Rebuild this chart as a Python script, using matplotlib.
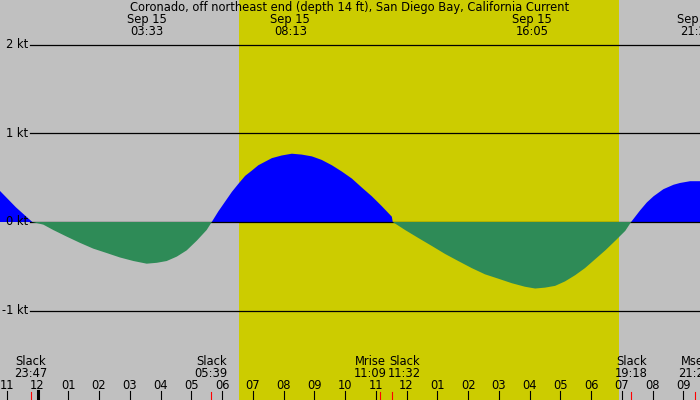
import numpy as np
import matplotlib
matplotlib.use("Agg")
import matplotlib.pyplot as plt

# hours after midnight Sep 15, current speed in knots (flood +, ebb -)
hours = [-1.22, -0.70, -0.17,
         0.19, 0.51, 0.95, 1.38, 1.81, 2.25, 2.68, 3.12, 3.55, 3.88, 4.20, 4.53, 4.85,
         5.18, 5.50, 5.665,
         5.88, 6.10, 6.32, 6.53, 6.75, 6.97, 7.18, 7.40, 7.62, 7.94, 8.27, 8.59, 8.92,
         9.24, 9.57, 9.89, 10.22, 10.54, 10.87, 11.19, 11.52, 11.55,
         11.95, 12.38, 12.82, 13.25, 13.68, 14.12, 14.55, 14.99, 15.42, 15.85, 16.18,
         16.50, 16.83, 17.15, 17.48, 17.80, 18.13, 18.46, 18.79, 19.11, 19.30,
         19.59, 19.81, 20.03, 20.35, 20.68, 20.89, 21.22, 21.45, 21.54]
speed = [0.35, 0.165, 0.0,
         -0.03, -0.09, -0.165, -0.235, -0.30, -0.35, -0.40, -0.44, -0.47, -0.46, -0.44,
         -0.39, -0.32, -0.21, -0.09, 0.0,
         0.12, 0.23, 0.34, 0.43, 0.52, 0.58, 0.64, 0.68, 0.72, 0.75, 0.77, 0.76, 0.74,
         0.70, 0.64, 0.57, 0.49, 0.39, 0.29, 0.18, 0.06, 0.0,
         -0.09, -0.18, -0.27, -0.36, -0.44, -0.52, -0.59, -0.64, -0.69, -0.73, -0.75,
         -0.74, -0.72, -0.67, -0.60, -0.52, -0.42, -0.32, -0.21, -0.10, 0.0,
         0.13, 0.22, 0.29, 0.37, 0.42, 0.44, 0.46, 0.46, 0.46]

peak_times = [3.55, 8.22, 16.08, 21.45]
peak_labels = ["03:33", "08:13", "16:05", "21:27"]

event_times = [-0.22, 5.65, 11.15, 11.53, 19.30, 21.38]
event_names = ["Slack", "Slack", "Mrise", "Slack", "Slack", "Mset"]
event_labels = ["23:47", "05:39", "11:09", "11:32", "19:18", "21:23"]

sunrise, sunset = 6.55, 18.92
grid_kt = [2, 1, 0, -1]
hour_ticks = list(range(-1, 22))

title = "Coronado, off northeast end (depth 14 ft), San Diego Bay, California Current"

x0, x1 = -1.22, 21.54
pxh = 30.75  # pixels per hour
fs = 8.3

h = np.array(hours)
v = np.array(speed)

plt.rcParams['font.family'] = ['DejaVu Sans']
fig = plt.figure(figsize=(7, 4), dpi=100)
fig.patch.set_facecolor("#c0c0c0")
ax = fig.add_axes([0, 0, 1, 1])
ax.set_facecolor("#c0c0c0")
ax.set_xlim(x0, x1)
ax.set_ylim(-2.007, 2.503)
ax.axis("off")

ax.axvspan(sunrise, sunset, color="#cccc00", lw=0, zorder=0)

for g in grid_kt:
    ax.plot([x0 + 30 / pxh, x1], [g, g], color="black", lw=0.9, zorder=2)
    ax.text(x0 + 28 / pxh, g, "%d kt" % g, ha="right", va="center", fontsize=fs)

# flood sits under the zero line, ebb covers it
ax.fill_between(h, 0, v, where=v >= 0, interpolate=True, color="#0000ff", lw=0, zorder=1)
ax.fill_between(h, 0, v, where=v <= 0, interpolate=True, color="#2e8b57", lw=0, zorder=3)

tr = ax.get_xaxis_transform()
ax.text((x0 + x1) / 2, 0.98, title, transform=tr, ha="center", va="center", fontsize=fs)
for t, lab in zip(peak_times, peak_labels):
    ax.text(t, 0.95, "Sep 15", transform=tr, ha="center", va="center", fontsize=fs)
    ax.text(t, 0.921, lab, transform=tr, ha="center", va="center", fontsize=fs)

# nudge the two crowded labels around 11h apart
shift = {2: -10 / pxh, 3: 12 / pxh}
for i, (t, name, lab) in enumerate(zip(event_times, event_names, event_labels)):
    xt = t + shift.get(i, 0)
    ax.text(xt, 0.0958, name, transform=tr, ha="center", va="center", fontsize=fs)
    ax.text(xt, 0.0668, lab, transform=tr, ha="center", va="center", fontsize=fs)
    ax.plot([t, t], [0, 0.021], transform=tr, color="red", lw=0.8, clip_on=False)

for hr in hour_ticks:
    lab = "%02d" % ((hr % 12) or 12)
    ax.text(hr, 0.036, lab, transform=tr, ha="center", va="center", fontsize=fs)
    ax.plot([hr, hr], [0, 0.0225], transform=tr, color="black",
            lw=2.2 if hr == 0 else 0.8)

fig.savefig("out.png", dpi=100, facecolor=fig.get_facecolor())
